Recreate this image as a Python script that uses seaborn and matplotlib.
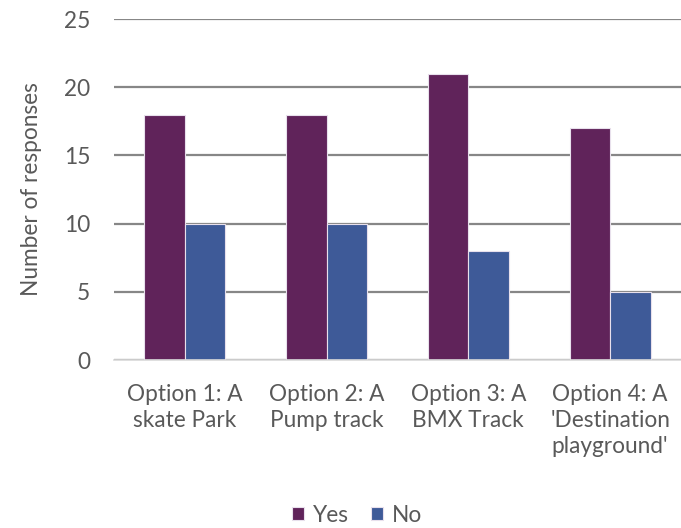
import pandas as pd
import matplotlib
matplotlib.use("Agg")
import matplotlib.pyplot as plt
import seaborn as sns

options = ["Option 1: A\nskate Park", "Option 2: A\nPump track",
           "Option 3: A\nBMX Track", "Option 4: A\n'Destination\nplayground'"]
yes_counts = [18, 18, 21, 17]
no_counts = [10, 10, 8, 5]
answers = ["Yes", "No"]
colours = ["#60235A", "#3E5A98"]

df = pd.DataFrame({
    "option": options * 2,
    "answer": ["Yes"] * 4 + ["No"] * 4,
    "count": yes_counts + no_counts,
})

sns.set_style("white")
plt.rcParams["font.family"] = ["Lato", "DejaVu Sans"]
text_col = "#595959"
fs = 16.3

fig = plt.figure(figsize=(6.81, 5.28), dpi=100)
ax = fig.add_axes([0.1674, 0.318, 0.8326, 0.646])

sns.barplot(data=df, x="option", y="count", hue="answer", hue_order=answers,
            palette=colours, width=0.57, edgecolor="#e8e0ec", linewidth=0.8,
            saturation=1, ax=ax, legend=True)

ax.set_ylim(0, 25)
ax.set_xlim(-0.5, 3.5)
ax.set_yticks(range(0, 26, 5))
ax.yaxis.grid(True, color="#878787", linewidth=1.6)
ax.set_axisbelow(True)
for side in ["top", "right", "left"]:
    ax.spines[side].set_visible(False)
ax.spines["bottom"].set_color("#d9d9d9")
ax.spines["bottom"].set_linewidth(1.2)
ax.tick_params(axis="both", length=0, labelsize=fs, labelcolor=text_col)
ax.tick_params(axis="x", pad=17)
ax.tick_params(axis="y", pad=17)
for lbl in ax.get_xticklabels():
    lbl.set_linespacing(1.3)
ax.set_xlabel("")
ax.set_ylabel("Number of responses", fontsize=fs, color=text_col, labelpad=16)

handles, labels = ax.get_legend_handles_labels()
ax.get_legend().remove()
fig.legend(handles, labels, loc="center", bbox_to_anchor=(357 / 681, 1 - 515 / 528),
           ncol=2, frameon=False, fontsize=fs, labelcolor=text_col,
           handlelength=0.5, handleheight=0.5, handletextpad=0.4, columnspacing=1.0)

fig.savefig("out.png", dpi=100)
